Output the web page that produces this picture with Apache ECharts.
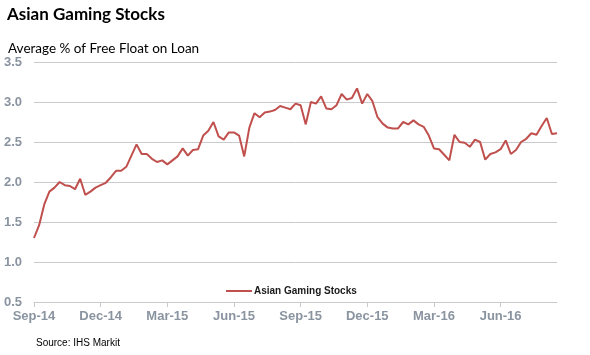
<!DOCTYPE html>
<html>
<head>
<meta charset="utf-8">
<script src="https://cdn.jsdelivr.net/npm/echarts@6/dist/echarts.min.js"></script>
<style>html,body{margin:0;padding:0;background:#fff}#c{width:590px;height:355px}</style>
</head>
<body>
<div id="c"></div>
<script>
// Weekly observations, Sep-14 .. Aug-16
var tickLabels = ['Sep-14','Dec-14','Mar-15','Jun-15','Sep-15','Dec-15','Mar-16','Jun-16'];
var weeksPerTick = 13;
var values = [
  1.30,1.46,1.72,1.88,1.93,2.00,1.96,1.95,1.91,2.04,
  1.84,1.88,1.93,1.96,1.99,2.06,2.14,2.14,2.19,2.33,
  2.47,2.35,2.35,2.29,2.25,2.27,2.22,2.27,2.32,2.42,
  2.33,2.40,2.41,2.58,2.64,2.75,2.57,2.53,2.62,2.62,
  2.58,2.32,2.68,2.86,2.81,2.87,2.88,2.90,2.95,2.93,
  2.91,2.98,2.96,2.72,3.00,2.98,3.07,2.92,2.91,2.96,
  3.10,3.03,3.05,3.17,2.98,3.10,3.01,2.81,2.73,2.68,
  2.67,2.67,2.75,2.72,2.77,2.72,2.69,2.58,2.42,2.41,
  2.34,2.27,2.59,2.50,2.49,2.44,2.53,2.50,2.28,2.35,
  2.37,2.41,2.52,2.35,2.40,2.50,2.54,2.61,2.59,2.70,
  2.80,2.60,2.61
];
var seriesName = 'Asian Gaming Stocks';

var categories = values.map(function (v, i) {
  return (i % weeksPerTick === 0 && tickLabels[i / weeksPerTick]) ? tickLabels[i / weeksPerTick] : '';
});
function isTick(i) { return i % weeksPerTick === 0; }

var chart = echarts.init(document.getElementById('c'), null, {renderer: 'canvas'});
chart.setOption({
  animation: false,
  backgroundColor: '#fff',
  title: [
    {text: 'Asian Gaming Stocks', left: 2, top: 1,
     textStyle: {fontFamily: 'Lato', fontWeight: 'bold', fontSize: 17, color: '#000'}},
    {text: 'Average % of Free Float on Loan', left: 3, top: 37,
     textStyle: {fontFamily: 'Lato', fontWeight: 'normal', fontSize: 13.5, color: '#000'}},
    {text: 'Source: IHS Markit', left: 31, top: 333,
     textStyle: {fontFamily: 'Liberation Sans', fontWeight: 'normal', fontSize: 10, color: '#000'}}
  ],
  legend: {
    left: 221, top: 281, itemWidth: 26, itemHeight: 10, itemGap: 10,
    icon: 'path://M0,4L26,4L26,6L0,6Z',
    textStyle: {fontFamily: 'Liberation Sans', fontWeight: 'bold', fontSize: 10, color: '#1a1a1a', padding: [0,0,0,-3]},
    data: [seriesName]
  },
  grid: {left: 34, right: 33, top: 62, bottom: 53, containLabel: false},
  xAxis: {
    type: 'category',
    data: categories,
    boundaryGap: false,
    axisLine: {lineStyle: {color: '#c8cacc', width: 1}},
    axisTick: {show: true, length: 5, interval: function (i) { return isTick(i); }, lineStyle: {color: '#c8cacc'}},
    axisLabel: {interval: function (i) { return isTick(i); }, margin: 8,
      fontFamily: 'Liberation Sans', fontWeight: 'bold', fontSize: 13, color: '#8a94a0'},
    splitLine: {show: false}
  },
  yAxis: {
    type: 'value', min: 0.5, max: 3.5, interval: 0.5,
    axisLine: {show: false}, axisTick: {show: false},
    axisLabel: {margin: 12, formatter: function (v) { return v.toFixed(1); },
      fontFamily: 'Liberation Sans', fontWeight: 'bold', fontSize: 13, color: '#8a94a0'},
    splitLine: {lineStyle: {color: '#c8cacc', width: 1}}
  },
  series: [{
    name: seriesName, type: 'line', data: values, showSymbol: false, symbol: 'none',
    lineStyle: {color: '#c0504d', width: 2}, itemStyle: {color: '#c0504d'}
  }]
});
</script>
</body>
</html>
